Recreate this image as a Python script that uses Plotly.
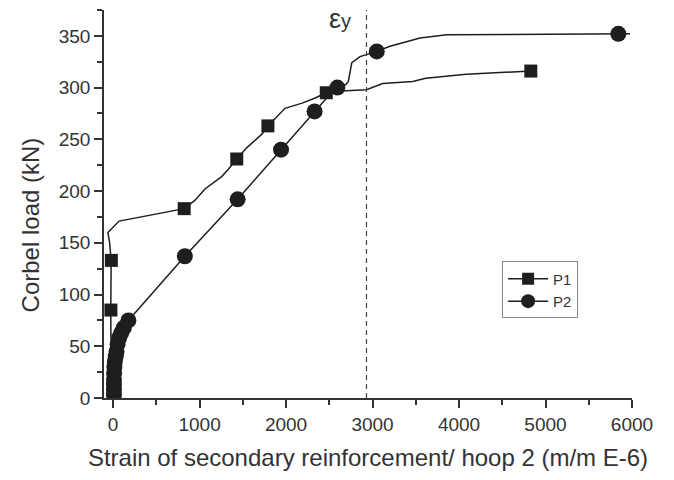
import plotly.graph_objects as go

# P1 curve (squares)
p1_line_x = [0, -15, -25, -27, -20, -22, -40, -60, 70, 822, 945, 1062, 1256, 1333, 1430, 1547, 1721, 1790,
             1988, 2186, 2337, 2465, 2690, 2930, 3116, 3465, 3616, 4081, 4830]
p1_line_y = [0, 30, 60, 85, 110, 133, 150, 160, 171, 183, 191, 202, 214, 221, 231, 242, 255, 263,
             280, 285, 290, 295, 297, 298, 304, 306, 309, 313, 316]
p1_mark_x = [-25, -20, 822, 1430, 1790, 2465, 4830]
p1_mark_y = [85, 133, 183, 231, 263, 295, 316]

# P2 curve (circles)
p2_line_x = [10, 10, 10, 10, 12, 15, 20, 30, 40, 52, 70, 95, 125, 177, 520, 830, 1440, 1942, 2330, 2480,
             2593, 2690, 2720, 2760, 2855, 3049, 3202, 3549, 3858, 5842, 5977]
p2_line_y = [3, 8, 13, 18, 24, 30, 35, 40, 45, 52, 58, 63, 68, 75, 107, 137, 192, 240, 277, 291,
             300, 303, 306, 324, 330, 335, 340, 348, 351, 352, 352]
p2_mark_x = [10, 10, 10, 10, 12, 15, 20, 30, 40, 52, 70, 95, 125, 177, 830, 1440, 1942, 2330, 2593, 3049, 5842]
p2_mark_y = [3, 8, 13, 18, 24, 30, 35, 40, 45, 52, 58, 63, 68, 75, 137, 192, 240, 277, 300, 335, 352]

eps_y_strain = 2930

x_ticks = [0, 1000, 2000, 3000, 4000, 5000, 6000]
y_ticks = [0, 50, 100, 150, 200, 250, 300, 350]

INK = "#1e1e1e"
FONT = "Liberation Sans, Arial, sans-serif"

fig = go.Figure()
fig.add_trace(go.Scatter(x=p1_line_x, y=p1_line_y, mode="lines",
                         line=dict(color=INK, width=1.5), showlegend=False))
fig.add_trace(go.Scatter(x=p2_line_x, y=p2_line_y, mode="lines",
                         line=dict(color=INK, width=1.5), showlegend=False))
fig.add_trace(go.Scatter(x=p1_mark_x, y=p1_mark_y, mode="markers",
                         marker=dict(symbol="square", size=13, color=INK), showlegend=False))
fig.add_trace(go.Scatter(x=p2_mark_x, y=p2_mark_y, mode="markers",
                         marker=dict(symbol="circle", size=16, color=INK), showlegend=False))
# legend entries
fig.add_trace(go.Scatter(x=[None], y=[None], mode="lines+markers", name="P1",
                         line=dict(color=INK, width=1.5),
                         marker=dict(symbol="square", size=12, color=INK)))
fig.add_trace(go.Scatter(x=[None], y=[None], mode="lines+markers", name="P2",
                         line=dict(color=INK, width=1.5),
                         marker=dict(symbol="circle", size=14, color=INK)))

fig.add_shape(type="line", xref="x", yref="paper", x0=eps_y_strain, x1=eps_y_strain, y0=0, y1=1,
              line=dict(color="#444", width=1.2, dash="5px,4px"))
fig.add_annotation(x=2625, y=366, xref="x", yref="y", text="ε<span style='font-size:20px'>y</span>",
                   showarrow=False, font=dict(family=FONT, size=27, color="#333"))
# y-axis title (placed as annotation to match the offset position)
fig.add_annotation(x=-0.14, y=0.445, xref="paper", yref="paper", text="Corbel load (kN)",
                   textangle=-90, showarrow=False, xanchor="center", yanchor="middle",
                   font=dict(family=FONT, size=24, color="#333"))

fig.update_layout(
    width=674, height=480,
    margin=dict(l=104, r=42, t=10, b=82),
    paper_bgcolor="white", plot_bgcolor="white",
    font=dict(family=FONT, color="#333"),
    legend=dict(x=0.754, y=0.352, xanchor="left", yanchor="top",
                bordercolor="#888", borderwidth=1, bgcolor="white",
                font=dict(size=15, family=FONT, color="#333"),
                itemwidth=40, tracegroupgap=0),
)
fig.update_xaxes(range=[-105, 6000], tickvals=x_ticks, showgrid=False, zeroline=False,
                 automargin=False,
                 showline=True, linecolor="#333", linewidth=1.5,
                 ticks="outside", ticklen=8, tickwidth=1.5, tickcolor="#333",
                 tickfont=dict(size=19, family=FONT, color="#333"),
                 minor=dict(dtick=500, ticks="outside", ticklen=5, tickwidth=1.5, tickcolor="#333"),
                 title=dict(text="Strain of secondary reinforcement/ hoop 2 (m/m E-6)",
                            font=dict(size=24, family=FONT, color="#333"), standoff=16))
fig.update_yaxes(range=[0, 375], tickvals=y_ticks, showgrid=False, zeroline=False,
                 automargin=False,
                 showline=True, linecolor="#333", linewidth=1.5,
                 ticks="outside", ticklen=8, tickwidth=1.5, tickcolor="#333",
                 tickfont=dict(size=19, family=FONT, color="#333"),
                 minor=dict(dtick=25, ticks="outside", ticklen=5, tickwidth=1.5, tickcolor="#333"))

fig.write_html("out.html", config={"displayModeBar": False},
               post_script="document.body.style.margin='0px';")
